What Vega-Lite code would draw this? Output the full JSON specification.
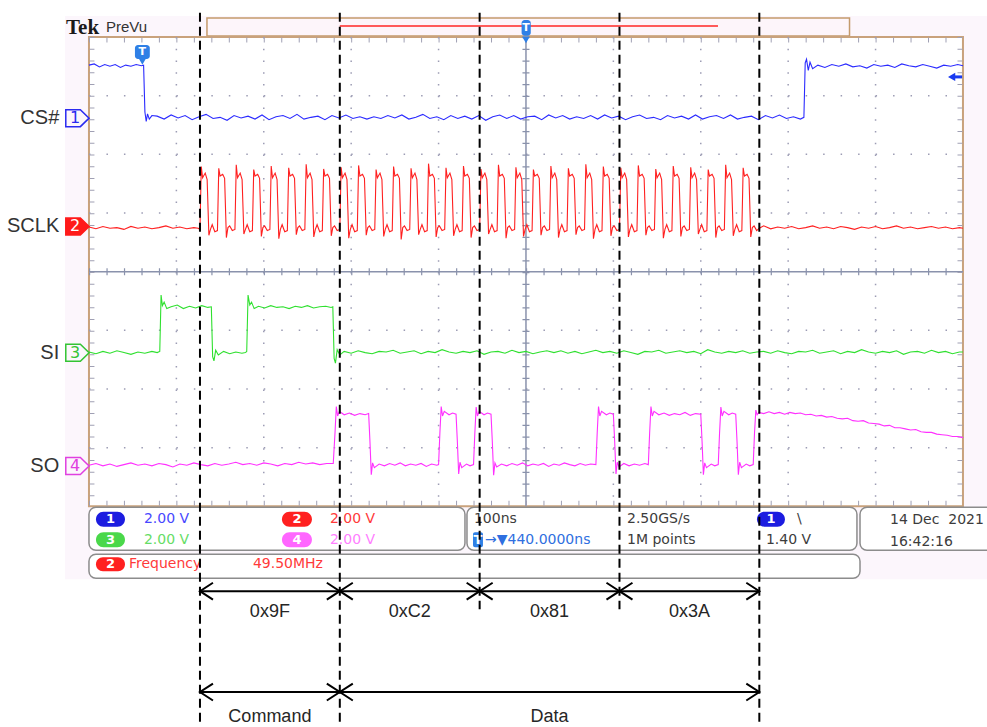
{
"$schema":"https://vega.github.io/schema/vega-lite/v6.json",
"width":987,"height":727,
"autosize":{"type":"fit","contains":"padding"},
"padding":0,
"background":"#ffffff",
"view":{"stroke":null},
"encoding":{
 "x":{"field":"t","type":"quantitative","scale":{"domain":[-101.8,1027.5],"nice":false,"zero":false},"axis":null},
 "y":{"field":"v","type":"quantitative","scale":{"domain":[-7.745,4.63],"nice":false,"zero":false},"axis":null}
},
"resolve":{"scale":{"color":"independent","fill":"independent","stroke":"independent"}},
"datasets":{
"cs":[{"t":0,"v":3.52},{"t":6,"v":3.54},{"t":12,"v":3.49},{"t":18,"v":3.53},{"t":24,"v":3.5},{"t":30,"v":3.53},{"t":36,"v":3.48},{"t":42,"v":3.52},{"t":48,"v":3.5},{"t":54,"v":3.53},{"t":60,"v":3.51},{"t":62.5,"v":3.52},
{"t":64,"v":2.72},{"t":65.5,"v":2.56},{"t":67,"v":2.69},{"t":69,"v":2.6},{"t":72,"v":2.66},
{"t":78,"v":2.65},{"t":86,"v":2.6},{"t":94,"v":2.67},{"t":102,"v":2.62},{"t":110,"v":2.66},{"t":118,"v":2.59},{"t":126,"v":2.64},{"t":134,"v":2.68},{"t":142,"v":2.61},{"t":150,"v":2.63},{"t":158,"v":2.58},{"t":166,"v":2.66},{"t":174,"v":2.62},{"t":182,"v":2.65},{"t":190,"v":2.6},{"t":198,"v":2.67},{"t":206,"v":2.59},{"t":214,"v":2.64},{"t":222,"v":2.66},{"t":230,"v":2.61},{"t":238,"v":2.68},{"t":246,"v":2.6},{"t":254,"v":2.63},{"t":262,"v":2.65},{"t":270,"v":2.59},{"t":278,"v":2.66},{"t":286,"v":2.62},{"t":294,"v":2.67},{"t":302,"v":2.61},{"t":310,"v":2.64},{"t":318,"v":2.6},
{"t":326,"v":2.64},{"t":334,"v":2.61},{"t":342,"v":2.66},{"t":350,"v":2.62},{"t":358,"v":2.67},{"t":366,"v":2.6},{"t":374,"v":2.63},{"t":382,"v":2.68},{"t":390,"v":2.61},{"t":398,"v":2.64},{"t":406,"v":2.59},{"t":414,"v":2.66},{"t":422,"v":2.61},{"t":430,"v":2.65},{"t":438,"v":2.6},{"t":446,"v":2.66},{"t":454,"v":2.58},{"t":462,"v":2.64},{"t":470,"v":2.67},{"t":478,"v":2.61},{"t":486,"v":2.66},{"t":494,"v":2.6},{"t":502,"v":2.64},{"t":510,"v":2.65},{"t":518,"v":2.59},{"t":526,"v":2.67},{"t":534,"v":2.62},{"t":542,"v":2.66},{"t":550,"v":2.6},{"t":558,"v":2.64},{"t":566,"v":2.61},
{"t":574,"v":2.66},{"t":582,"v":2.6},{"t":590,"v":2.67},{"t":598,"v":2.62},{"t":606,"v":2.65},{"t":614,"v":2.59},{"t":622,"v":2.64},{"t":630,"v":2.67},{"t":638,"v":2.61},{"t":646,"v":2.63},{"t":654,"v":2.59},{"t":662,"v":2.66},{"t":670,"v":2.62},{"t":678,"v":2.65},{"t":686,"v":2.6},{"t":694,"v":2.67},{"t":702,"v":2.6},{"t":710,"v":2.64},{"t":718,"v":2.66},{"t":726,"v":2.61},{"t":734,"v":2.67},{"t":742,"v":2.6},{"t":750,"v":2.63},{"t":758,"v":2.65},{"t":766,"v":2.59},{"t":774,"v":2.66},{"t":782,"v":2.62},{"t":790,"v":2.67},{"t":798,"v":2.61},{"t":806,"v":2.64},{"t":814,"v":2.6},
{"t":818,"v":2.63},{"t":819.5,"v":3.56},{"t":821,"v":3.62},{"t":823,"v":3.43},{"t":825,"v":3.57},{"t":828,"v":3.46},{"t":834,"v":3.52},{"t":842,"v":3.48},{"t":850,"v":3.53},{"t":858,"v":3.5},{"t":866,"v":3.54},{"t":874,"v":3.49},{"t":882,"v":3.51},{"t":890,"v":3.47},{"t":898,"v":3.53},{"t":906,"v":3.5},{"t":914,"v":3.52},{"t":922,"v":3.48},{"t":930,"v":3.54},{"t":938,"v":3.51},{"t":946,"v":3.49},{"t":954,"v":3.53},{"t":962,"v":3.5},{"t":970,"v":3.47},{"t":978,"v":3.52},{"t":986,"v":3.5},{"t":994,"v":3.53},{"t":1000,"v":3.51}],
"sclk":[{"t":0,"v":0.76},{"t":8,"v":0.73},{"t":16,"v":0.77},{"t":24,"v":0.74},{"t":32,"v":0.75},{"t":40,"v":0.72},{"t":48,"v":0.77},{"t":56,"v":0.74},{"t":64,"v":0.76},{"t":72,"v":0.73},{"t":80,"v":0.75},{"t":88,"v":0.78},{"t":96,"v":0.74},{"t":104,"v":0.76},{"t":112,"v":0.73},{"t":120,"v":0.75},{"t":125,"v":0.74},
{"t":127,"v":0.72},{"t":128.5,"v":1.79},{"t":130,"v":1.6},{"t":133,"v":1.68},{"t":135.2,"v":1.57},{"t":137.2,"v":0.62},{"t":139,"v":0.72},{"t":141,"v":0.8},{"t":144,"v":0.68},
{"t":147,"v":0.7},{"t":148.5,"v":1.76},{"t":150,"v":1.63},{"t":153,"v":1.66},{"t":155.2,"v":1.59},{"t":157.2,"v":0.58},{"t":159,"v":0.75},{"t":161,"v":0.78},{"t":164,"v":0.7},
{"t":167,"v":0.72},{"t":168.5,"v":1.82},{"t":170,"v":1.6},{"t":173,"v":1.68},{"t":175.2,"v":1.57},{"t":177.2,"v":0.64},{"t":179,"v":0.72},{"t":181,"v":0.8},{"t":184,"v":0.68},
{"t":187,"v":0.7},{"t":188.5,"v":1.74},{"t":190,"v":1.63},{"t":193,"v":1.66},{"t":195.2,"v":1.59},{"t":197.2,"v":0.6},{"t":199,"v":0.75},{"t":201,"v":0.78},{"t":204,"v":0.7},
{"t":207,"v":0.72},{"t":208.5,"v":1.8},{"t":210,"v":1.6},{"t":213,"v":1.68},{"t":215.2,"v":1.57},{"t":217.2,"v":0.56},{"t":219,"v":0.72},{"t":221,"v":0.8},{"t":224,"v":0.68},
{"t":227,"v":0.7},{"t":228.5,"v":1.77},{"t":230,"v":1.63},{"t":233,"v":1.66},{"t":235.2,"v":1.59},{"t":237.2,"v":0.63},{"t":239,"v":0.75},{"t":241,"v":0.78},{"t":244,"v":0.7},
{"t":247,"v":0.72},{"t":248.5,"v":1.83},{"t":250,"v":1.6},{"t":253,"v":1.68},{"t":255.2,"v":1.57},{"t":257.2,"v":0.59},{"t":259,"v":0.72},{"t":261,"v":0.8},{"t":264,"v":0.68},
{"t":267,"v":0.7},{"t":268.5,"v":1.75},{"t":270,"v":1.63},{"t":273,"v":1.66},{"t":275.2,"v":1.59},{"t":277.2,"v":0.61},{"t":279,"v":0.75},{"t":281,"v":0.78},{"t":284,"v":0.7},
{"t":287,"v":0.72},{"t":288.5,"v":1.78},{"t":290,"v":1.6},{"t":293,"v":1.68},{"t":295.2,"v":1.57},{"t":297.2,"v":0.57},{"t":299,"v":0.72},{"t":301,"v":0.8},{"t":304,"v":0.68},
{"t":307,"v":0.7},{"t":308.5,"v":1.81},{"t":310,"v":1.63},{"t":313,"v":1.66},{"t":315.2,"v":1.59},{"t":317.2,"v":0.62},{"t":319,"v":0.75},{"t":321,"v":0.78},{"t":324,"v":0.7},
{"t":327,"v":0.72},{"t":328.5,"v":1.74},{"t":330,"v":1.6},{"t":333,"v":1.68},{"t":335.2,"v":1.57},{"t":337.2,"v":0.6},{"t":339,"v":0.72},{"t":341,"v":0.8},{"t":344,"v":0.68},
{"t":347,"v":0.7},{"t":348.5,"v":1.79},{"t":350,"v":1.63},{"t":353,"v":1.66},{"t":355.2,"v":1.59},{"t":357.2,"v":0.55},{"t":359,"v":0.75},{"t":361,"v":0.78},{"t":364,"v":0.7},
{"t":367,"v":0.72},{"t":368.5,"v":1.76},{"t":370,"v":1.6},{"t":373,"v":1.68},{"t":375.2,"v":1.57},{"t":377.2,"v":0.63},{"t":379,"v":0.72},{"t":381,"v":0.8},{"t":384,"v":0.68},
{"t":387,"v":0.7},{"t":388.5,"v":1.84},{"t":390,"v":1.63},{"t":393,"v":1.66},{"t":395.2,"v":1.59},{"t":397.2,"v":0.59},{"t":399,"v":0.75},{"t":401,"v":0.78},{"t":404,"v":0.7},
{"t":407,"v":0.72},{"t":408.5,"v":1.77},{"t":410,"v":1.6},{"t":413,"v":1.68},{"t":415.2,"v":1.57},{"t":417.2,"v":0.61},{"t":419,"v":0.72},{"t":421,"v":0.8},{"t":424,"v":0.68},
{"t":427,"v":0.7},{"t":428.5,"v":1.8},{"t":430,"v":1.63},{"t":433,"v":1.66},{"t":435.2,"v":1.59},{"t":437.2,"v":0.58},{"t":439,"v":0.75},{"t":441,"v":0.78},{"t":444,"v":0.7},
{"t":447,"v":0.72},{"t":448.5,"v":1.75},{"t":450,"v":1.6},{"t":453,"v":1.68},{"t":455.2,"v":1.57},{"t":457.2,"v":0.64},{"t":459,"v":0.72},{"t":461,"v":0.8},{"t":464,"v":0.68},
{"t":467,"v":0.7},{"t":468.5,"v":1.82},{"t":470,"v":1.63},{"t":473,"v":1.66},{"t":475.2,"v":1.59},{"t":477.2,"v":0.57},{"t":479,"v":0.75},{"t":481,"v":0.78},{"t":484,"v":0.7},
{"t":487,"v":0.72},{"t":488.5,"v":1.78},{"t":490,"v":1.6},{"t":493,"v":1.68},{"t":495.2,"v":1.57},{"t":497.2,"v":0.6},{"t":499,"v":0.72},{"t":501,"v":0.8},{"t":504,"v":0.68},
{"t":507,"v":0.7},{"t":508.5,"v":1.74},{"t":510,"v":1.63},{"t":513,"v":1.66},{"t":515.2,"v":1.59},{"t":517.2,"v":0.62},{"t":519,"v":0.75},{"t":521,"v":0.78},{"t":524,"v":0.7},
{"t":527,"v":0.72},{"t":528.5,"v":1.8},{"t":530,"v":1.6},{"t":533,"v":1.68},{"t":535.2,"v":1.57},{"t":537.2,"v":0.58},{"t":539,"v":0.72},{"t":541,"v":0.8},{"t":544,"v":0.68},
{"t":547,"v":0.7},{"t":548.5,"v":1.76},{"t":550,"v":1.63},{"t":553,"v":1.66},{"t":555.2,"v":1.59},{"t":557.2,"v":0.63},{"t":559,"v":0.75},{"t":561,"v":0.78},{"t":564,"v":0.7},
{"t":567,"v":0.72},{"t":568.5,"v":1.83},{"t":570,"v":1.6},{"t":573,"v":1.68},{"t":575.2,"v":1.57},{"t":577.2,"v":0.56},{"t":579,"v":0.72},{"t":581,"v":0.8},{"t":584,"v":0.68},
{"t":587,"v":0.7},{"t":588.5,"v":1.79},{"t":590,"v":1.63},{"t":593,"v":1.66},{"t":595.2,"v":1.59},{"t":597.2,"v":0.61},{"t":599,"v":0.75},{"t":601,"v":0.78},{"t":604,"v":0.7},
{"t":607,"v":0.72},{"t":608.5,"v":1.77},{"t":610,"v":1.6},{"t":613,"v":1.68},{"t":615.2,"v":1.57},{"t":617.2,"v":0.59},{"t":619,"v":0.72},{"t":621,"v":0.8},{"t":624,"v":0.68},
{"t":627,"v":0.7},{"t":628.5,"v":1.81},{"t":630,"v":1.63},{"t":633,"v":1.66},{"t":635.2,"v":1.59},{"t":637.2,"v":0.62},{"t":639,"v":0.75},{"t":641,"v":0.78},{"t":644,"v":0.7},
{"t":647,"v":0.72},{"t":648.5,"v":1.75},{"t":650,"v":1.6},{"t":653,"v":1.68},{"t":655.2,"v":1.57},{"t":657.2,"v":0.57},{"t":659,"v":0.72},{"t":661,"v":0.8},{"t":664,"v":0.68},
{"t":667,"v":0.7},{"t":668.5,"v":1.8},{"t":670,"v":1.63},{"t":673,"v":1.66},{"t":675.2,"v":1.59},{"t":677.2,"v":0.6},{"t":679,"v":0.75},{"t":681,"v":0.78},{"t":684,"v":0.7},
{"t":687,"v":0.72},{"t":688.5,"v":1.78},{"t":690,"v":1.6},{"t":693,"v":1.68},{"t":695.2,"v":1.57},{"t":697.2,"v":0.64},{"t":699,"v":0.72},{"t":701,"v":0.8},{"t":704,"v":0.68},
{"t":707,"v":0.7},{"t":708.5,"v":1.74},{"t":710,"v":1.63},{"t":713,"v":1.66},{"t":715.2,"v":1.59},{"t":717.2,"v":0.58},{"t":719,"v":0.75},{"t":721,"v":0.78},{"t":724,"v":0.7},
{"t":727,"v":0.72},{"t":728.5,"v":1.82},{"t":730,"v":1.6},{"t":733,"v":1.68},{"t":735.2,"v":1.57},{"t":737.2,"v":0.61},{"t":739,"v":0.72},{"t":741,"v":0.8},{"t":744,"v":0.68},
{"t":747,"v":0.7},{"t":748.5,"v":1.77},{"t":750,"v":1.63},{"t":753,"v":1.66},{"t":755.2,"v":1.59},{"t":757.2,"v":0.59},{"t":759,"v":0.75},{"t":761,"v":0.78},{"t":764,"v":0.7},
{"t":767,"v":0.74},{"t":772,"v":0.78},{"t":780,"v":0.73},{"t":788,"v":0.76},{"t":796,"v":0.74},{"t":804,"v":0.77},{"t":812,"v":0.73},{"t":820,"v":0.75},{"t":828,"v":0.78},{"t":836,"v":0.74},{"t":844,"v":0.76},{"t":852,"v":0.73},{"t":860,"v":0.77},{"t":868,"v":0.75},{"t":876,"v":0.72},{"t":884,"v":0.76},{"t":892,"v":0.74},{"t":900,"v":0.77},{"t":908,"v":0.73},{"t":916,"v":0.75},{"t":924,"v":0.78},{"t":932,"v":0.74},{"t":940,"v":0.76},{"t":948,"v":0.73},{"t":956,"v":0.75},{"t":964,"v":0.77},{"t":972,"v":0.74},{"t":980,"v":0.76},{"t":988,"v":0.73},{"t":996,"v":0.75},{"t":1000,"v":0.74}],
"si":[{"t":0,"v":-1.37},{"t":8,"v":-1.4},{"t":16,"v":-1.36},{"t":24,"v":-1.39},{"t":32,"v":-1.35},{"t":40,"v":-1.38},{"t":48,"v":-1.41},{"t":56,"v":-1.37},{"t":64,"v":-1.39},{"t":72,"v":-1.36},{"t":78,"v":-1.38},
{"t":81,"v":-1.36},{"t":82.5,"v":-0.4},{"t":84,"v":-0.58},{"t":86,"v":-0.52},{"t":89,"v":-0.63},{"t":94,"v":-0.6},{"t":101,"v":-0.57},{"t":108,"v":-0.63},{"t":115,"v":-0.59},{"t":122,"v":-0.62},{"t":129,"v":-0.58},{"t":136,"v":-0.61},
{"t":140,"v":-0.6},{"t":141.5,"v":-1.45},{"t":143,"v":-1.52},{"t":145,"v":-1.34},{"t":148,"v":-1.42},{"t":154,"v":-1.36},{"t":161,"v":-1.4},{"t":168,"v":-1.37},{"t":175,"v":-1.39},{"t":179,"v":-1.38},
{"t":180.5,"v":-1.36},{"t":182,"v":-0.4},{"t":184,"v":-0.57},{"t":186,"v":-0.52},{"t":189,"v":-0.63},{"t":194,"v":-0.59},{"t":201,"v":-0.62},{"t":208,"v":-0.58},{"t":215,"v":-0.61},{"t":222,"v":-0.6},{"t":229,"v":-0.63},{"t":236,"v":-0.59},{"t":243,"v":-0.61},{"t":250,"v":-0.58},{"t":257,"v":-0.62},{"t":264,"v":-0.6},{"t":271,"v":-0.59},{"t":277,"v":-0.61},
{"t":279,"v":-0.6},{"t":280.5,"v":-1.48},{"t":282,"v":-1.56},{"t":284,"v":-1.33},{"t":287,"v":-1.42},
{"t":292,"v":-1.36},{"t":300,"v":-1.39},{"t":308,"v":-1.35},{"t":316,"v":-1.38},{"t":324,"v":-1.4},{"t":332,"v":-1.36},{"t":340,"v":-1.37},{"t":348,"v":-1.34},{"t":356,"v":-1.39},{"t":364,"v":-1.37},{"t":372,"v":-1.35},{"t":380,"v":-1.4},{"t":388,"v":-1.36},{"t":396,"v":-1.38},{"t":404,"v":-1.33},{"t":412,"v":-1.37},{"t":420,"v":-1.39},{"t":428,"v":-1.36},{"t":436,"v":-1.38},{"t":444,"v":-1.35},{"t":452,"v":-1.41},{"t":460,"v":-1.37},{"t":468,"v":-1.36},{"t":476,"v":-1.39},{"t":484,"v":-1.34},{"t":492,"v":-1.38},{"t":500,"v":-1.36},{"t":508,"v":-1.4},{"t":516,"v":-1.37},{"t":524,"v":-1.35},
{"t":532,"v":-1.38},{"t":540,"v":-1.35},{"t":548,"v":-1.39},{"t":556,"v":-1.36},{"t":564,"v":-1.4},{"t":572,"v":-1.37},{"t":580,"v":-1.34},{"t":588,"v":-1.38},{"t":596,"v":-1.36},{"t":604,"v":-1.39},{"t":612,"v":-1.35},{"t":620,"v":-1.38},{"t":628,"v":-1.41},{"t":636,"v":-1.36},{"t":644,"v":-1.37},{"t":652,"v":-1.34},{"t":660,"v":-1.39},{"t":668,"v":-1.37},{"t":676,"v":-1.35},{"t":684,"v":-1.38},{"t":692,"v":-1.36},{"t":700,"v":-1.4},{"t":708,"v":-1.33},{"t":716,"v":-1.37},{"t":724,"v":-1.39},{"t":732,"v":-1.36},{"t":740,"v":-1.38},{"t":748,"v":-1.35},{"t":756,"v":-1.39},{"t":764,"v":-1.37},
{"t":772,"v":-1.36},{"t":780,"v":-1.39},{"t":788,"v":-1.35},{"t":796,"v":-1.38},{"t":804,"v":-1.4},{"t":812,"v":-1.36},{"t":820,"v":-1.37},{"t":828,"v":-1.34},{"t":836,"v":-1.39},{"t":844,"v":-1.37},{"t":852,"v":-1.35},{"t":860,"v":-1.4},{"t":868,"v":-1.36},{"t":876,"v":-1.38},{"t":884,"v":-1.33},{"t":892,"v":-1.37},{"t":900,"v":-1.39},{"t":908,"v":-1.36},{"t":916,"v":-1.38},{"t":924,"v":-1.35},{"t":932,"v":-1.41},{"t":940,"v":-1.37},{"t":948,"v":-1.36},{"t":956,"v":-1.39},{"t":964,"v":-1.34},{"t":972,"v":-1.38},{"t":980,"v":-1.36},{"t":988,"v":-1.4},{"t":996,"v":-1.37},{"t":1000,"v":-1.37}],
"so":[{"t":0,"v":-3.3},{"t":8,"v":-3.27},{"t":16,"v":-3.31},{"t":24,"v":-3.28},{"t":32,"v":-3.32},{"t":40,"v":-3.29},{"t":48,"v":-3.26},{"t":56,"v":-3.3},{"t":64,"v":-3.28},{"t":72,"v":-3.31},{"t":80,"v":-3.27},{"t":88,"v":-3.29},{"t":96,"v":-3.33},{"t":104,"v":-3.28},{"t":112,"v":-3.3},{"t":120,"v":-3.26},{"t":128,"v":-3.29},{"t":136,"v":-3.31},{"t":144,"v":-3.27},{"t":152,"v":-3.3},{"t":160,"v":-3.28},{"t":168,"v":-3.25},{"t":176,"v":-3.29},{"t":184,"v":-3.27},{"t":192,"v":-3.3},{"t":200,"v":-3.26},{"t":208,"v":-3.28},{"t":216,"v":-3.31},{"t":224,"v":-3.27},{"t":232,"v":-3.29},{"t":240,"v":-3.25},{"t":248,"v":-3.28},{"t":256,"v":-3.26},{"t":264,"v":-3.29},{"t":272,"v":-3.27},{"t":279.5,"v":-3.27},
{"t":281.5,"v":-2.75},{"t":283,"v":-2.3},{"t":284.5,"v":-2.46},{"t":286.5,"v":-2.38},{"t":292,"v":-2.44},{"t":298,"v":-2.41},{"t":304,"v":-2.45},{"t":310,"v":-2.42},{"t":316,"v":-2.44},{"t":320,"v":-2.42},
{"t":321.5,"v":-2.9},{"t":323,"v":-3.46},{"t":324.5,"v":-3.26},{"t":326.5,"v":-3.34},{"t":332,"v":-3.28},{"t":338,"v":-3.31},{"t":344,"v":-3.27},{"t":350,"v":-3.3},{"t":356,"v":-3.26},{"t":362,"v":-3.31},{"t":368,"v":-3.28},{"t":374,"v":-3.3},{"t":380,"v":-3.27},{"t":386,"v":-3.32},{"t":392,"v":-3.28},{"t":398,"v":-3.3},{"t":400,"v":-3.29},
{"t":401.5,"v":-2.75},{"t":403,"v":-2.3},{"t":404.5,"v":-2.46},{"t":406.5,"v":-2.38},{"t":412,"v":-2.44},{"t":416,"v":-2.41},{"t":420,"v":-2.43},
{"t":421.5,"v":-2.9},{"t":423,"v":-3.45},{"t":424.5,"v":-3.25},{"t":426.5,"v":-3.34},{"t":432,"v":-3.28},{"t":436,"v":-3.31},{"t":440,"v":-3.29},
{"t":441.5,"v":-2.75},{"t":443,"v":-2.31},{"t":444.5,"v":-2.46},{"t":446.5,"v":-2.38},{"t":452,"v":-2.44},{"t":456,"v":-2.41},{"t":460,"v":-2.43},
{"t":461.5,"v":-2.9},{"t":463,"v":-3.47},{"t":464.5,"v":-3.26},{"t":466.5,"v":-3.33},{"t":472,"v":-3.28},{"t":478,"v":-3.31},{"t":484,"v":-3.27},{"t":490,"v":-3.3},{"t":496,"v":-3.26},{"t":502,"v":-3.31},{"t":508,"v":-3.28},{"t":514,"v":-3.3},{"t":520,"v":-3.27},{"t":526,"v":-3.32},{"t":532,"v":-3.28},{"t":538,"v":-3.3},{"t":544,"v":-3.26},{"t":550,"v":-3.29},{"t":556,"v":-3.31},{"t":562,"v":-3.27},{"t":568,"v":-3.3},{"t":574,"v":-3.28},{"t":580,"v":-3.29},
{"t":581.5,"v":-2.75},{"t":583,"v":-2.3},{"t":584.5,"v":-2.46},{"t":586.5,"v":-2.38},{"t":592,"v":-2.44},{"t":596,"v":-2.41},{"t":600,"v":-2.43},
{"t":601.5,"v":-2.9},{"t":603,"v":-3.45},{"t":604.5,"v":-3.25},{"t":606.5,"v":-3.33},{"t":612,"v":-3.27},{"t":618,"v":-3.31},{"t":624,"v":-3.28},{"t":630,"v":-3.3},{"t":636,"v":-3.27},{"t":640,"v":-3.29},
{"t":641.5,"v":-2.75},{"t":643,"v":-2.3},{"t":644.5,"v":-2.46},{"t":646.5,"v":-2.38},{"t":652,"v":-2.44},{"t":658,"v":-2.41},{"t":664,"v":-2.45},{"t":670,"v":-2.42},{"t":676,"v":-2.44},{"t":682,"v":-2.4},{"t":688,"v":-2.45},{"t":694,"v":-2.42},{"t":700,"v":-2.43},
{"t":701.5,"v":-2.9},{"t":703,"v":-3.46},{"t":704.5,"v":-3.26},{"t":706.5,"v":-3.34},{"t":712,"v":-3.28},{"t":716,"v":-3.31},{"t":720,"v":-3.29},
{"t":721.5,"v":-2.75},{"t":723,"v":-2.31},{"t":724.5,"v":-2.46},{"t":726.5,"v":-2.38},{"t":732,"v":-2.44},{"t":736,"v":-2.41},{"t":740,"v":-2.43},
{"t":741.5,"v":-2.9},{"t":743,"v":-3.46},{"t":744.5,"v":-3.25},{"t":746.5,"v":-3.34},{"t":752,"v":-3.28},{"t":756,"v":-3.31},{"t":760,"v":-3.29},
{"t":761.5,"v":-2.75},{"t":763,"v":-2.36},{"t":764.5,"v":-2.44},{"t":766.5,"v":-2.4},{"t":772,"v":-2.42},{"t":778,"v":-2.39},{"t":784,"v":-2.42},{"t":790,"v":-2.4},{"t":796,"v":-2.43},{"t":802,"v":-2.4},{"t":808,"v":-2.42},{"t":814,"v":-2.41},{"t":820,"v":-2.44},{"t":826,"v":-2.43},{"t":832,"v":-2.46},{"t":838,"v":-2.45},{"t":844,"v":-2.48},{"t":850,"v":-2.47},{"t":856,"v":-2.5},{"t":862,"v":-2.51},{"t":868,"v":-2.5},{"t":874,"v":-2.54},{"t":880,"v":-2.55},{"t":886,"v":-2.54},{"t":892,"v":-2.58},{"t":898,"v":-2.59},{"t":904,"v":-2.6},{"t":910,"v":-2.63},{"t":916,"v":-2.62},{"t":922,"v":-2.66},{"t":928,"v":-2.66},{"t":934,"v":-2.68},{"t":940,"v":-2.7},{"t":946,"v":-2.69},{"t":952,"v":-2.73},{"t":958,"v":-2.74},{"t":964,"v":-2.74},{"t":970,"v":-2.77},{"t":976,"v":-2.78},{"t":982,"v":-2.79},{"t":988,"v":-2.81},{"t":994,"v":-2.81},{"t":1000,"v":-2.83}]
},
"layer":[
{"data":{"values":[{"t":-27.5,"t2":1027.5,"v":4.357,"v2":-5.243}]},"mark":{"type":"rect","fill":"#fcf6fc","clip":true},"encoding":{"x2":{"field":"t2"},"y2":{"field":"v2"}}},
{"data":{"values":[{"t":135,"t2":870.2,"v":4.323,"v2":4.017}]},"mark":{"type":"rect","fill":"#fdf5fa","stroke":"#c49a6c","strokeWidth":1.5},"encoding":{"x2":{"field":"t2"},"y2":{"field":"v2"}}},
{"data":{"values":[{"t":287,"t2":719.7,"v":4.187}]},"mark":{"type":"rule","color":"#ff5a5a","strokeWidth":2},"encoding":{"x2":{"field":"t2"}}},
{"data":{"values":[{"t":0,"t2":1000,"v":4,"v2":-4}]},"mark":{"type":"rect","fill":"#ffffff","stroke":"#c9a27c","strokeWidth":2},"encoding":{"x2":{"field":"t2"},"y2":{"field":"v2"}}},
{"data":{"values":[{"t":100,"v":4,"v2":-4},{"t":200,"v":4,"v2":-4},{"t":300,"v":4,"v2":-4},{"t":400,"v":4,"v2":-4},{"t":600,"v":4,"v2":-4},{"t":700,"v":4,"v2":-4},{"t":800,"v":4,"v2":-4},{"t":900,"v":4,"v2":-4}]},"mark":{"type":"rule","color":"#9c9cb4","strokeWidth":1.5,"strokeDash":[1.5,10.25]},"encoding":{"y2":{"field":"v2"}}},
{"data":{"values":[{"t":0,"t2":1000,"v":3},{"t":0,"t2":1000,"v":2},{"t":0,"t2":1000,"v":1},{"t":0,"t2":1000,"v":-1},{"t":0,"t2":1000,"v":-2},{"t":0,"t2":1000,"v":-3}]},"mark":{"type":"rule","color":"#9c9cb4","strokeWidth":1.5,"strokeDash":[1.5,15.98]},"encoding":{"x2":{"field":"t2"}}},
{"data":{"values":[{"t":500,"v":4,"v2":-4}]},"mark":{"type":"rule","color":"#8a92ac","strokeWidth":1.5},"encoding":{"y2":{"field":"v2"}}},
{"data":{"values":[{"t":0,"t2":1000,"v":0}]},"mark":{"type":"rule","color":"#8a92ac","strokeWidth":1.5},"encoding":{"x2":{"field":"t2"}}},
{"data":{"values":[{"t":500,"v":4,"v2":-4}]},"mark":{"type":"rule","color":"#8a92ac","strokeWidth":7,"strokeDash":[1.2,10.55]},"encoding":{"y2":{"field":"v2"}}},
{"data":{"values":[{"t":0,"t2":1000,"v":0}]},"mark":{"type":"rule","color":"#8a92ac","strokeWidth":7,"strokeDash":[1.2,16.28]},"encoding":{"x2":{"field":"t2"}}},
{"data":{"values":[{"t":0,"t2":1000,"v":3.95},{"t":0,"t2":1000,"v":-3.95}]},"mark":{"type":"rule","color":"#a0a0b4","strokeWidth":5,"strokeDash":[1,16.48]},"encoding":{"x2":{"field":"t2"}}},
{"data":{"values":[{"t":3.4,"v":4,"v2":-4},{"t":996.6,"v":4,"v2":-4}]},"mark":{"type":"rule","color":"#a0a0b4","strokeWidth":5,"strokeDash":[1,10.75]},"encoding":{"y2":{"field":"v2"}}},
{"data":{"name":"cs"},"mark":{"type":"line","color":"#2b2bff","strokeWidth":1.1}},
{"data":{"name":"sclk"},"mark":{"type":"line","color":"#ff2020","strokeWidth":1.1}},
{"data":{"name":"si"},"mark":{"type":"line","color":"#2fe02f","strokeWidth":1.1}},
{"data":{"name":"so"},"mark":{"type":"line","color":"#ff30ff","strokeWidth":1.1}},
{"data":{"values":[{"ch":"1","t":-13.2,"v":2.616},{"ch":"2","t":-13.2,"v":0.771},{"ch":"3","t":-13.2,"v":-1.384},{"ch":"4","t":-13.2,"v":-3.314}]},"mark":{"type":"point","shape":"M-1,-0.73L0.25,-0.73L1,0L0.25,0.73L-1,0.73Z","size":543,"filled":true,"strokeWidth":1.5,"opacity":1},"encoding":{"fill":{"field":"ch","type":"nominal","scale":{"domain":["1","2","3","4"],"range":["#fcf6fc","#ff1a1a","#fcf6fc","#fcf6fc"]},"legend":null},"stroke":{"field":"ch","type":"nominal","scale":{"domain":["1","2","3","4"],"range":["#2a2af0","#ff1a1a","#33c433","#e040e0"]},"legend":null}}},
{"data":{"values":[{"ch":"1","t":-16,"v":2.616},{"ch":"2","t":-16,"v":0.771},{"ch":"3","t":-16,"v":-1.384},{"ch":"4","t":-16,"v":-3.314}]},"mark":{"type":"text","font":"DejaVu Sans","fontSize":16,"baseline":"middle","align":"center"},"encoding":{"text":{"field":"ch"},"color":{"field":"ch","type":"nominal","scale":{"domain":["1","2","3","4"],"range":["#2a2af0","#ffffff","#33c433","#e040e0"]},"legend":null}}},
{"data":{"values":[{"t":52.6,"t2":69.6,"v":3.864,"v2":3.626},{"t":495,"t2":505.5,"v":4.289,"v2":4.02}]},"mark":{"type":"rect","fill":"#2f80e6","cornerRadius":3},"encoding":{"x2":{"field":"t2"},"y2":{"field":"v2"}}},
{"data":{"values":[{"t":61.1,"v":3.585},{"t":500,"v":3.95}]},"mark":{"type":"point","shape":"triangle-down","size":60,"filled":true,"color":"#2f80e6","opacity":1}},
{"data":{"values":[{"t":61.1,"v":3.745,"label":"T"},{"t":500,"v":4.155,"label":"T"}]},"mark":{"type":"text","font":"DejaVu Sans","fontWeight":"bold","fontSize":11,"baseline":"middle","align":"center","color":"#ffffff"},"encoding":{"text":{"field":"label"}}},
{"data":{"values":[{"t":987,"v":3.319}]},"mark":{"type":"point","shape":"triangle-left","size":70,"filled":true,"color":"#1a3af0","opacity":1}},
{"data":{"values":[{"t":989,"t2":999,"v":3.319}]},"mark":{"type":"rule","color":"#1a3af0","strokeWidth":3},"encoding":{"x2":{"field":"t2"}}},
{"data":{"values":[{"t":-34,"v":2.616,"label":"CS#"},{"t":-34,"v":0.771,"label":"SCLK"},{"t":-34,"v":-1.384,"label":"SI"},{"t":-34,"v":-3.314,"label":"SO"}]},"mark":{"type":"text","font":"Liberation Sans","fontSize":20,"align":"right","baseline":"middle","color":"#333333"},"encoding":{"text":{"field":"label"}}},
{"data":{"values":[{"t":-26.3,"v":4.15,"label":"Tek"}]},"mark":{"type":"text","font":"Liberation Serif","fontWeight":"bold","fontSize":21,"align":"left","baseline":"middle","color":"#1a1a1a"},"encoding":{"text":{"field":"label"}}},
{"data":{"values":[{"t":19.5,"v":4.17,"label":"PreVu"}]},"mark":{"type":"text","font":"Liberation Sans","fontSize":15,"align":"left","baseline":"middle","color":"#333333"},"encoding":{"text":{"field":"label"}}},
{"data":{"values":[{"t":0,"t2":430.2,"v":-4.017,"v2":-4.749},{"t":432.5,"t2":878.7,"v":-4.017,"v2":-4.749},{"t":882.2,"t2":1035,"v":-4.017,"v2":-4.749},{"t":0,"t2":882.2,"v":-4.817,"v2":-5.226}]},"mark":{"type":"rect","fill":"#ffffff","stroke":"#8c8c8c","strokeWidth":1.5,"cornerRadius":7,"clip":true},"encoding":{"x2":{"field":"t2"},"y2":{"field":"v2"}}},
{"data":{"values":[{"t":8,"t2":41.2,"v":-4.094,"v2":-4.349,"ch":"1"},{"t":8,"t2":41.2,"v":-4.443,"v2":-4.698,"ch":"3"},{"t":220.8,"t2":255.1,"v":-4.094,"v2":-4.349,"ch":"2"},{"t":220.8,"t2":255.1,"v":-4.443,"v2":-4.698,"ch":"4"},{"t":8,"t2":41.2,"v":-4.868,"v2":-5.106,"ch":"2"},{"t":764.3,"t2":796.3,"v":-4.094,"v2":-4.349,"ch":"1"}]},"mark":{"type":"rect","cornerRadius":7.5},"encoding":{"x2":{"field":"t2"},"y2":{"field":"v2"},"fill":{"field":"ch","type":"nominal","scale":{"domain":["1","2","3","4"],"range":["#1c1ce0","#ff2020","#4ad84a","#ff66ff"]},"legend":null}}},
{"data":{"values":[{"t":439.4,"t2":450.8,"v":-4.443,"v2":-4.698}]},"mark":{"type":"rect","fill":"#2f80e6","cornerRadius":2},"encoding":{"x2":{"field":"t2"},"y2":{"field":"v2"}}},
{"data":{"values":[{"t":24.6,"v":-4.221,"label":"1"},{"t":24.6,"v":-4.57,"label":"3"},{"t":238,"v":-4.221,"label":"2"},{"t":238,"v":-4.57,"label":"4"},{"t":24.6,"v":-4.987,"label":"2"},{"t":780.3,"v":-4.221,"label":"1"},{"t":445.1,"v":-4.57,"label":"T"}]},"mark":{"type":"text","font":"DejaVu Sans","fontWeight":"bold","fontSize":13,"align":"center","baseline":"middle","color":"#ffffff"},"encoding":{"text":{"field":"label"}}},
{"data":{"values":[{"t":62.9,"v":-4.221,"label":"2.00 V","ch":"1"},{"t":62.9,"v":-4.57,"label":"2.00 V","ch":"3"},{"t":275.7,"v":-4.221,"label":"2.00 V","ch":"2"},{"t":275.7,"v":-4.57,"label":"2.00 V","ch":"4"},{"t":45.8,"v":-4.987,"label":"Frequency","ch":"2"},{"t":187.6,"v":-4.987,"label":"49.50MHz","ch":"2"},{"t":440.5,"v":-4.221,"label":"100ns","ch":"k"},{"t":453.1,"v":-4.579,"label":"→▼440.0000ns","ch":"b"},{"t":615.6,"v":-4.221,"label":"2.50GS/s","ch":"k"},{"t":615.6,"v":-4.579,"label":"1M points","ch":"k"},{"t":810.1,"v":-4.221,"label":"\\","ch":"k"},{"t":774.6,"v":-4.579,"label":"1.40 V","ch":"k"},{"t":916.5,"v":-4.238,"label":"14 Dec\u00a0 2021","ch":"k"},{"t":916.5,"v":-4.613,"label":"16:42:16","ch":"k"}]},"mark":{"type":"text","font":"DejaVu Sans","fontSize":14,"align":"left","baseline":"middle"},"encoding":{"text":{"field":"label"},"color":{"field":"ch","type":"nominal","scale":{"domain":["1","2","3","4","k","b"],"range":["#4848ff","#ff3a3a","#66dd66","#ff80ff","#3c3c3c","#2f6fe0"]},"legend":null}}},
{"data":{"values":[{"t":127,"v":4.413,"v2":-7.745},{"t":287,"v":4.413,"v2":-7.745},{"t":767,"v":4.413,"v2":-7.745},{"t":447,"v":4.413,"v2":-5.753},{"t":607,"v":4.413,"v2":-5.753}]},"mark":{"type":"rule","color":"#000000","strokeWidth":2,"strokeDash":[9,5]},"encoding":{"y2":{"field":"v2"}}},
{"data":{"values":[{"t":127,"t2":767,"v":-5.447},{"t":127,"t2":767,"v":-7.166}]},"mark":{"type":"rule","color":"#000000","strokeWidth":2},"encoding":{"x2":{"field":"t2"}}},
{"data":{"values":[{"t":127,"v":-5.447},{"t":287,"v":-5.447},{"t":447,"v":-5.447},{"t":607,"v":-5.447},{"t":127,"v":-7.166},{"t":287,"v":-7.166}]},"mark":{"type":"point","shape":"M1,-0.65L0,0L1,0.65","size":676,"filled":false,"color":"#000000","strokeWidth":2,"opacity":1}},
{"data":{"values":[{"t":287,"v":-5.447},{"t":447,"v":-5.447},{"t":607,"v":-5.447},{"t":767,"v":-5.447},{"t":287,"v":-7.166},{"t":767,"v":-7.166}]},"mark":{"type":"point","shape":"M-1,-0.65L0,0L-1,0.65","size":676,"filled":false,"color":"#000000","strokeWidth":2,"opacity":1}},
{"data":{"values":[{"t":207,"v":-5.804,"label":"0x9F"},{"t":367,"v":-5.804,"label":"0xC2"},{"t":527,"v":-5.804,"label":"0x81"},{"t":687,"v":-5.804,"label":"0x3A"},{"t":207,"v":-7.591,"label":"Command"},{"t":527,"v":-7.591,"label":"Data"}]},"mark":{"type":"text","font":"Liberation Sans","fontSize":18,"align":"center","baseline":"middle","color":"#262626"},"encoding":{"text":{"field":"label"}}}
]
}
